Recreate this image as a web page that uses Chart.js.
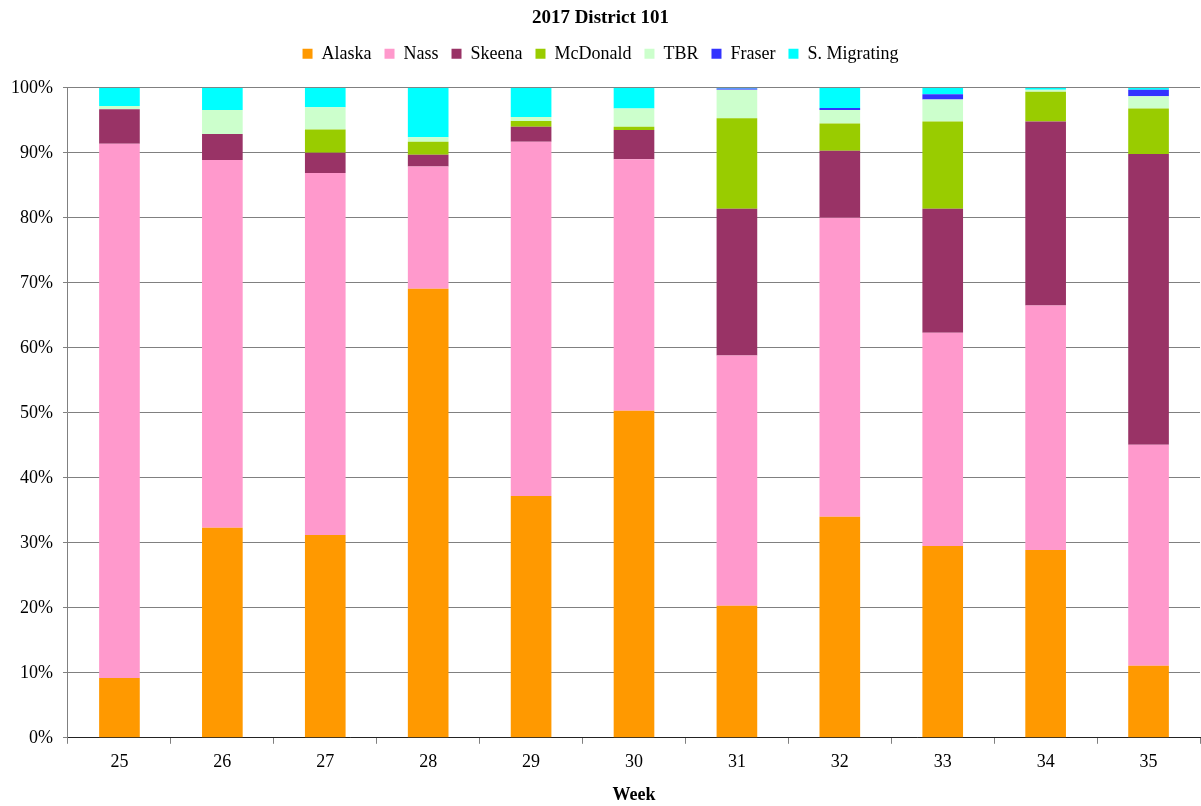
<!DOCTYPE html>
<html>
<head>
<meta charset="utf-8">
<script src="https://cdn.jsdelivr.net/npm/chart.js@4"></script>
<style>
  html, body { margin: 0; padding: 0; background: #fff; }
  #wrap { width: 1201px; height: 806px; }
</style>
</head>
<body>
<div id="wrap"><canvas id="myChart" width="1201" height="806"></canvas></div>
<script>
// weeks on the x axis
const weeks = ["25", "26", "27", "28", "29", "30", "31", "32", "33", "34", "35"];

// stock composition per week, in percent
const alaska     = [9.2, 32.3, 31.2, 69.1, 37.2, 50.3, 20.3, 34.0, 29.5, 28.9, 11.1];
const nass       = [82.2, 56.6, 55.7, 18.8, 54.5, 38.7, 38.5, 46.0, 32.8, 37.6, 34.0];
const skeena     = [5.3, 4.0, 3.1, 1.8, 2.3, 4.5, 22.6, 10.3, 19.1, 28.3, 44.7];
const mcdonald   = [0, 0, 3.6, 2.0, 0.9, 0.5, 13.9, 4.2, 13.4, 4.6, 7.0];
const tbr        = [0.5, 3.7, 3.4, 0.7, 0.6, 2.8, 4.4, 2.1, 3.4, 0.3, 1.9];
const fraser     = [0, 0, 0, 0, 0, 0, 0.2, 0.3, 0.8, 0, 1.0];
const sMigrating = [2.8, 3.4, 3.0, 7.6, 4.5, 3.2, 0.1, 3.1, 1.0, 0.3, 0.3];

const yTicks = [0, 10, 20, 30, 40, 50, 60, 70, 80, 90, 100];

const serif = "'Liberation Serif', 'Times New Roman', serif";

function makeSet(label, data, color) {
  return {
    label: label,
    data: data,
    backgroundColor: color,
    borderWidth: 0,
    barPercentage: 0.395,
    categoryPercentage: 1.0
  };
}

// extra room under the legend, like the Excel original
const legendGap = {
  id: "legendGap",
  beforeInit(chart) {
    const fit = chart.legend.fit;
    chart.legend.fit = function () {
      fit.bind(chart.legend)();
      this.height += 15;
    };
  }
};

const ctx = document.getElementById("myChart").getContext("2d");
new Chart(ctx, {
  type: "bar",
  data: {
    labels: weeks,
    datasets: [
      makeSet("Alaska", alaska, "#FF9900"),
      makeSet("Nass", nass, "#FF99CC"),
      makeSet("Skeena", skeena, "#993366"),
      makeSet("McDonald", mcdonald, "#99CC00"),
      makeSet("TBR", tbr, "#CCFFCC"),
      makeSet("Fraser", fraser, "#3333FF"),
      makeSet("S. Migrating", sMigrating, "#00FFFF")
    ]
  },
  plugins: [legendGap],
  options: {
    responsive: false,
    animation: false,
    layout: { padding: { left: 1, right: 1, top: 0, bottom: 0 } },
    plugins: {
      title: {
        display: true,
        text: "2017 District 101",
        color: "#000",
        font: { family: serif, size: 19, weight: "bold" },
        padding: { top: 7, bottom: 2 }
      },
      legend: {
        position: "top",
        labels: {
          color: "#000",
          font: { family: serif, size: 18 },
          boxWidth: 10,
          boxHeight: 10,
          padding: 13
        }
      },
      tooltip: { enabled: false }
    },
    scales: {
      x: {
        stacked: true,
        grid: {
          offset: true,
          drawOnChartArea: false,
          drawTicks: true,
          tickLength: 6,
          color: "#808080"
        },
        border: { color: "#222", width: 1 },
        ticks: {
          color: "#000",
          font: { family: serif, size: 18 },
          padding: 8,
          maxRotation: 0
        },
        title: {
          display: true,
          text: "Week",
          color: "#000",
          font: { family: serif, size: 18, weight: "bold" },
          padding: { top: 3, bottom: 0 }
        }
      },
      y: {
        stacked: true,
        min: 0,
        max: 100,
        afterBuildTicks: (axis) => {
          axis.ticks = yTicks.map((v) => ({ value: v }));
        },
        grid: {
          color: "#808080",
          tickLength: 5,
          lineWidth: 1
        },
        border: { color: "#808080", width: 1 },
        ticks: {
          color: "#000",
          font: { family: serif, size: 18 },
          padding: 10,
          callback: (v) => v + "%"
        }
      }
    }
  }
});
</script>
</body>
</html>
